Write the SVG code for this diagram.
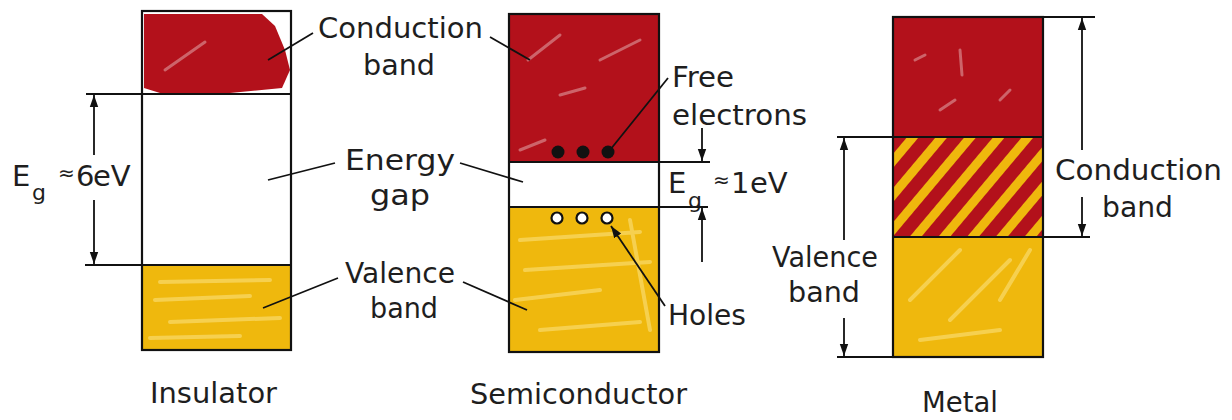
<svg xmlns="http://www.w3.org/2000/svg" width="1232" height="420" viewBox="0 0 1232 420">
<style>
text{font-family:"DejaVu Sans","Liberation Sans",sans-serif;font-size:29px;fill:#1e1e1e}
.sub{font-size:22px}
.ap{font-size:20px}
.box{fill:none;stroke:#111;stroke-width:2.2}
.ln{stroke:#111;stroke-width:2;fill:none}
.ld{stroke:#111;stroke-width:1.8;fill:none}
.red{fill:#b3111b}
.yel{fill:#efb80d}
.hl{stroke:#fff;stroke-opacity:.35;stroke-width:3;fill:none;stroke-linecap:round}
.yl{stroke:#f8d660;stroke-opacity:.8;stroke-width:4;fill:none;stroke-linecap:round}
.ar{stroke:#111;stroke-width:1.8;fill:none;marker-end:url(#ah)}
</style>
<defs>
<marker id="ah" viewBox="0 0 10 10" refX="10" refY="5" markerWidth="12" markerHeight="12" markerUnits="userSpaceOnUse" orient="auto">
<path d="M0,1.5 L10,5 L0,8.5 z" fill="#111"/>
</marker>
<pattern id="stripes" width="22" height="22" patternUnits="userSpaceOnUse" patternTransform="rotate(40)">
<rect width="22" height="22" fill="#efb80d"/>
<rect x="0" width="13" height="22" fill="#b3111b"/>
</pattern>
</defs>

<g id="insulator">
<path class="red" d="M144,14 L262,14 L275,26 L285,50 L290,70 L282,88 L230,93 L160,93 L144,88 z"/>
<path class="hl" d="M165,70 L205,42"/>
<rect class="yel" x="143" y="266" width="147" height="83"/>
<path class="yl" d="M160,282 L270,280 M155,300 L250,296 M170,322 L280,318 M150,338 L240,336"/>
<rect class="box" x="142" y="11" width="149" height="339"/>
<line class="ln" x1="86" y1="94" x2="291" y2="94"/>
<line class="ln" x1="85" y1="265" x2="291" y2="265"/>
</g>

<g id="semiconductor">
<path class="red" d="M510,15 L658,15 L658,161 L510,161 z"/>
<path class="hl" d="M528,60 L560,35 M560,95 L585,88 M600,60 L640,40 M520,150 L545,140"/>
<rect class="yel" x="510" y="208" width="148" height="143"/>
<path class="yl" d="M520,240 L640,232 M525,270 L650,262 M515,300 L600,290 M540,330 L640,322 M630,220 L650,330"/>
<rect class="box" x="509" y="14" width="150" height="338"/>
<line class="ln" x1="509" y1="162" x2="710" y2="162"/>
<line class="ln" x1="509" y1="207" x2="708" y2="207"/>
<g fill="#111">
<circle cx="558" cy="152" r="6.5"/><circle cx="583" cy="152" r="6.5"/><circle cx="608" cy="152" r="6.5"/>
</g>
<g fill="#fff" stroke="#111" stroke-width="2.2">
<circle cx="557" cy="218" r="5.5"/><circle cx="582" cy="218" r="5.5"/><circle cx="607" cy="218" r="5.5"/>
</g>
</g>

<g id="metal">
<rect class="red" x="894" y="18" width="148" height="119"/>
<path class="hl" d="M915,60 L925,55 M960,50 L962,75 M1000,100 L1010,90 M940,110 L955,100"/>
<rect x="894" y="137" width="148" height="100" fill="url(#stripes)"/>
<rect class="yel" x="894" y="237" width="148" height="119"/>
<path class="yl" d="M910,300 L960,250 M950,320 L1010,260 M920,340 L1000,330 M1000,300 L1030,250"/>
<rect class="box" x="893" y="17" width="150" height="340"/>
<line class="ln" x1="837" y1="137" x2="1043" y2="137"/>
<line class="ln" x1="893" y1="237" x2="1090" y2="237"/>
<line class="ln" x1="1043" y1="17" x2="1095" y2="17"/>
<line class="ln" x1="837" y1="357" x2="893" y2="357"/>
</g>

<g id="connectors">
<line class="ar" x1="94" y1="155" x2="94" y2="95"/>
<line class="ar" x1="94" y1="200" x2="94" y2="264"/>
<line class="ar" x1="702" y1="128" x2="702" y2="161"/>
<line class="ar" x1="702" y1="262" x2="702" y2="208"/>
<line class="ar" x1="1082" y1="150" x2="1082" y2="18"/>
<line class="ar" x1="1082" y1="197" x2="1082" y2="236"/>
<line class="ar" x1="844" y1="240" x2="844" y2="138"/>
<line class="ar" x1="844" y1="318" x2="844" y2="356"/>
<line class="ld" x1="313" y1="33" x2="268" y2="60"/>
<line class="ld" x1="335" y1="163" x2="268" y2="180"/>
<line class="ld" x1="338" y1="278" x2="263" y2="308"/>
<line class="ld" x1="490" y1="37" x2="530" y2="60"/>
<line class="ld" x1="460" y1="163" x2="523" y2="182"/>
<line class="ld" x1="463" y1="282" x2="527" y2="310"/>
<line class="ld" x1="668" y1="78" x2="610" y2="150"/>
<line class="ar" x1="665" y1="306" x2="611" y2="226"/>
</g>

<g id="labels">
<text x="318" y="38" textLength="165" lengthAdjust="spacingAndGlyphs">Conduction</text>
<text x="363" y="75" textLength="72" lengthAdjust="spacingAndGlyphs">band</text>
<text x="345" y="170" textLength="110" lengthAdjust="spacingAndGlyphs">Energy</text>
<text x="370" y="205" textLength="60" lengthAdjust="spacingAndGlyphs">gap</text>
<text x="345" y="283" textLength="110" lengthAdjust="spacingAndGlyphs">Valence</text>
<text x="370" y="318" textLength="68" lengthAdjust="spacingAndGlyphs">band</text>
<text y="186"><tspan x="12">E</tspan><tspan class="sub" x="32" y="200">g</tspan><tspan class="ap" x="58" y="180">≈</tspan><tspan x="76" y="186">6</tspan><tspan x="93">eV</tspan></text>
<text x="672" y="87" textLength="62" lengthAdjust="spacingAndGlyphs">Free</text>
<text x="672" y="125" textLength="135" lengthAdjust="spacingAndGlyphs">electrons</text>
<text y="193"><tspan x="668">E</tspan><tspan class="sub" x="688" y="208">g</tspan><tspan class="ap" x="713" y="187">≈</tspan><tspan x="731" y="193">1</tspan><tspan x="750">eV</tspan></text>
<text x="668" y="325" textLength="78" lengthAdjust="spacingAndGlyphs">Holes</text>
<text x="772" y="267" textLength="106" lengthAdjust="spacingAndGlyphs">Valence</text>
<text x="788" y="302" textLength="72" lengthAdjust="spacingAndGlyphs">band</text>
<text x="1055" y="180" textLength="167" lengthAdjust="spacingAndGlyphs">Conduction</text>
<text x="1102" y="217" textLength="71" lengthAdjust="spacingAndGlyphs">band</text>
<text x="150" y="403" textLength="127" lengthAdjust="spacingAndGlyphs">Insulator</text>
<text x="470" y="404" textLength="217" lengthAdjust="spacingAndGlyphs">Semiconductor</text>
<text x="922" y="412" textLength="76" lengthAdjust="spacingAndGlyphs">Metal</text>
</g>
</svg>
